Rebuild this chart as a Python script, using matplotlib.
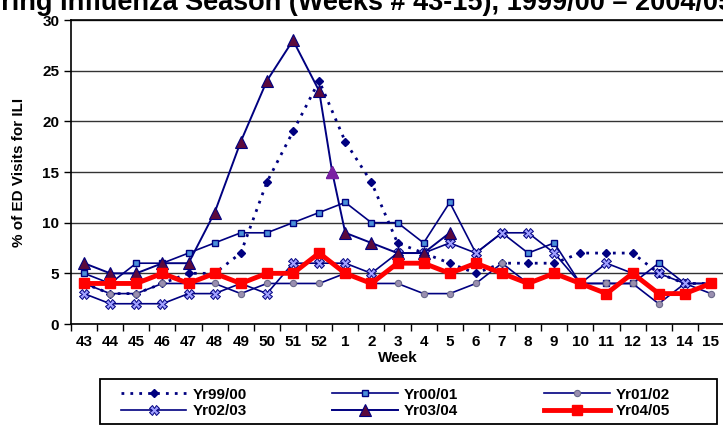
import matplotlib.pyplot as plt
import numpy as np
from matplotlib.patches import Rectangle

plt.rcParams['font.family'] = ['Liberation Sans', 'DejaVu Sans']
plt.rcParams['font.weight'] = 'bold'

# Semanas da temporada de gripe
weeks = ['43', '44', '45', '46', '47', '48', '49', '50', '51', '52',
         '1', '2', '3', '4', '5', '6', '7', '8', '9', '10', '11', '12', '13', '14', '15']

# % de visitas ao ED por ILI, por temporada
yr9900 = [4, 3, 3, 4, 5, 5, 7, 14, 19, 24, 18, 14, 8, 7, 6, 5, 6, 6, 6, 7, 7, 7, 5, 4, 4]
yr0001 = [5, 4, 6, 6, 7, 8, 9, 9, 10, 11, 12, 10, 10, 8, 12, 7, 9, 7, 8, 4, 4, 4, 6, 4, 4]
yr0102 = [4, 3, 3, 4, 4, 4, 3, 4, 4, 4, 5, 4, 4, 3, 3, 4, 6, 4, 5, 4, 4, 4, 2, 4, 3]
yr0203 = [3, 2, 2, 2, 3, 3, 4, 3, 6, 6, 6, 5, 7, 7, 8, 7, 9, 9, 7, 4, 6, 5, 5, 4, 4]
yr0304 = [6, 5, 5, 6, 6, 11, 18, 24, 28, 23, 9, 8, 7, 7, 9]
yr0304_wk53 = 15  # semana 53 (entre 52 e 1)
yr0405 = [4, 4, 4, 5, 4, 5, 4, 5, 5, 7, 5, 4, 6, 6, 5, 6, 5, 4, 5, 4, 3, 5, 3, 3, 4]

navy = '#000080'
x = np.arange(len(weeks))
W, H = 723, 426

fig = plt.figure(figsize=(W / 100, H / 100), dpi=100)
ax = fig.add_axes([71 / W, 1 - 324 / H, 653 / W, 304 / H])

# Yr03/04 tem a semana 53 no meio entre 52 e 1
x0304 = np.insert(x[:len(yr0304)].astype(float), 10, 9.5)
v0304 = np.insert(np.array(yr0304, dtype=float), 10, yr0304_wk53)

h1, = ax.plot(x, yr9900, color=navy, linestyle=(0, (1, 2.2)), linewidth=2,
              marker='D', markersize=4.5, markerfacecolor=navy, markeredgecolor=navy, label='Yr99/00')
h2, = ax.plot(x, yr0001, color=navy, linewidth=1.2, marker='s', markersize=5,
              markerfacecolor='#4a90d9', markeredgecolor=navy, markeredgewidth=1, label='Yr00/01')
h3, = ax.plot(x, yr0102, color=navy, linewidth=1.2, marker='o', markersize=4.5,
              markerfacecolor='#9a8fb0', markeredgecolor='#6a6a8a', markeredgewidth=0.8, label='Yr01/02')
h4, = ax.plot(x, yr0203, color=navy, linewidth=1.2, marker='X', markersize=6.5,
              markerfacecolor='#a0a0ff', markeredgecolor=navy, markeredgewidth=0.7, label='Yr02/03')
h5, = ax.plot(x0304, v0304, color=navy, linewidth=1.4, marker='^', markersize=8,
              markerfacecolor='#5c0a3c', markeredgecolor=navy, markeredgewidth=0.8, label='Yr03/04')
ax.plot(x0304[10], v0304[10], linestyle='none', marker='^', markersize=8,
        markerfacecolor='#7b1fa2', markeredgecolor='#7b1fa2')
h6, = ax.plot(x, yr0405, color='#ff0000', linewidth=3.5, marker='s', markersize=7.5,
              markerfacecolor='#ff0000', markeredgecolor='#ff0000', label='Yr04/05')

ax.set_xlim(-0.5, len(weeks) - 0.5)
ax.set_ylim(0, 30)
ax.set_yticks(range(0, 31, 5))
ax.set_xticks(x)
ax.set_xticklabels(weeks)
ax.set_xticks(np.arange(-0.5, len(weeks), 1), minor=True)
ax.tick_params(axis='x', which='major', length=0, labelsize=11, pad=8)
ax.tick_params(axis='x', which='minor', length=5, width=1, direction='out')
ax.tick_params(axis='y', length=5, width=1, direction='out', labelsize=11)
for lab in ax.get_xticklabels() + ax.get_yticklabels():
    lab.set_fontweight('bold')

ax.grid(True, axis='y', color='#333333', linewidth=1)
ax.set_axisbelow(True)
for s in ax.spines.values():
    s.set_linewidth(1.2)
    s.set_color('black')

ax.set_xlabel('Week', fontsize=11, fontweight='bold', labelpad=1)
ax.set_ylabel('% of ED Visits for ILI', fontsize=11, fontweight='bold', labelpad=12)

# Título cortado no topo, como no original
fig.text(-35 / W, 1 - 10 / H,
         'During Influenza Season (Weeks # 43-15), 1999/00 \u2013 2004/05',
         ha='left', va='baseline', fontsize=19.5, fontweight='bold')

# Caixa da legenda
fig.add_artist(Rectangle((100 / W, 1 - 424 / H), 617 / W, 45 / H, transform=fig.transFigure,
                         fill=False, edgecolor='black', linewidth=1.3))
leg = fig.legend([h1, h4, h2, h5, h3, h6],
                 ['Yr99/00', 'Yr02/03', 'Yr00/01', 'Yr03/04', 'Yr01/02', 'Yr04/05'],
                 ncol=3, loc='upper left', bbox_to_anchor=(110 / W, 1 - 377 / H),
                 frameon=False, fontsize=11, handlelength=4.3, handletextpad=0.4,
                 borderpad=0.2, labelspacing=0.15, columnspacing=5.6)
for t in leg.get_texts():
    t.set_fontweight('bold')

plt.savefig('out.png', dpi=100)
plt.close(fig)
